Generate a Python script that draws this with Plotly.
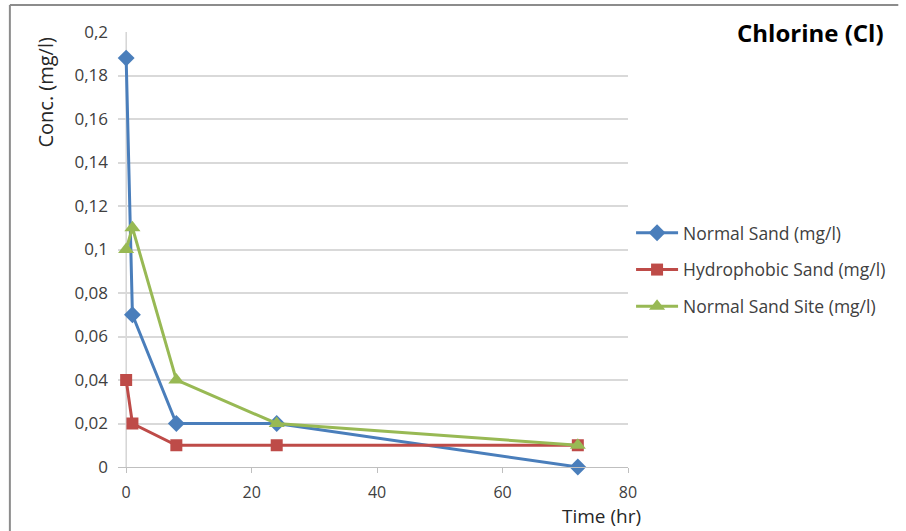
import plotly.graph_objects as go

time_hr = [0, 1, 8, 24, 72]
normal_sand = [0.188, 0.07, 0.02, 0.02, 0.0]
hydrophobic_sand = [0.04, 0.02, 0.01, 0.01, 0.01]
normal_sand_site = [0.1, 0.11, 0.04, 0.02, 0.01]
y_ticks = [0, 0.02, 0.04, 0.06, 0.08, 0.1, 0.12, 0.14, 0.16, 0.18, 0.2]
x_ticks = [0, 20, 40, 60, 80]

FONT = "'Open Sans', Lato, sans-serif"
TXT = "#404040"
AX = "#bfbfbf"

fig = go.Figure()
fig.add_trace(go.Scatter(x=time_hr, y=normal_sand, name="Normal Sand (mg/l)",
                         mode="lines+markers", legendgroup="a", cliponaxis=False,
                         line=dict(color="#4a7ebb", width=3),
                         marker=dict(symbol="diamond", size=13, color="#4a7ebb")))
fig.add_trace(go.Scatter(x=time_hr, y=hydrophobic_sand, name="Hydrophobic Sand (mg/l)",
                         mode="lines+markers", legendgroup="b", cliponaxis=False,
                         line=dict(color="#be4b48", width=3),
                         marker=dict(symbol="square", size=12, color="#be4b48")))
fig.add_trace(go.Scatter(x=time_hr, y=normal_sand_site, name="Normal Sand Site (mg/l)",
                         mode="lines+markers", legendgroup="c", cliponaxis=False,
                         line=dict(color="#98b954", width=3),
                         marker=dict(symbol="triangle-up", size=14, color="#98b954")))

# plot area starts a little left of x=0 so the gridlines overhang like tick marks
fig.update_layout(
    width=906, height=531,
    margin=dict(l=118, r=278, t=32, b=64),
    paper_bgcolor="white", plot_bgcolor="white",
    separators=", ",
    font=dict(family=FONT, size=16, color=TXT),
    showlegend=True,
    legend=dict(x=1.006, y=0.453, xanchor="left", yanchor="middle",
                font=dict(family=FONT, size=17.5, color=TXT),
                tracegroupgap=11, itemwidth=42,
                bgcolor="rgba(0,0,0,0)"),
    xaxis=dict(range=[-1.3, 80], tickvals=x_ticks, showgrid=False, zeroline=False,
               showline=True, linecolor=AX, linewidth=1,
               ticks="outside", ticklen=5, tickcolor=AX,
               ticklabelstandoff=6,
               tickfont=dict(family=FONT, size=16, color=TXT)),
    yaxis=dict(range=[0, 0.2], tickvals=y_ticks, showgrid=True, gridcolor="#d9d9d9",
               gridwidth=1.5, zeroline=False, showline=False,
               ticks="", ticklabelstandoff=9,
               tickfont=dict(family=FONT, size=17, color=TXT)),
    annotations=[
        dict(text="<b>Chlorine (Cl)</b>", xref="paper", yref="paper",
             x=1.358, y=1.0, xanchor="center", yanchor="middle",
             showarrow=False, font=dict(family=FONT, size=24, color="#000000")),
        dict(text="Conc. (mg/l)", xref="paper", yref="paper",
             x=-0.144, y=0.862, xanchor="center", yanchor="middle", textangle=-90,
             showarrow=False, font=dict(family=FONT, size=20, color="#262626")),
        dict(text="Time (hr)", xref="paper", yref="paper",
             x=1.03, y=-0.113, xanchor="right", yanchor="middle",
             showarrow=False, font=dict(family=FONT, size=19, color="#262626")),
    ],
    shapes=[
        dict(type="line", xref="x", yref="y", x0=0, x1=0, y0=0, y1=0.2,
             line=dict(color=AX, width=1), layer="below"),
        dict(type="line", xref="paper", yref="paper",
             x0=-0.212, x1=1.53, y0=1.062, y1=1.062,
             line=dict(color="#8c8c8c", width=2)),
        dict(type="line", xref="paper", yref="paper",
             x0=-0.212, x1=-0.212, y0=1.062, y1=-0.15,
             line=dict(color="#8c8c8c", width=2)),
    ],
)

fig.write_html("out.html")
